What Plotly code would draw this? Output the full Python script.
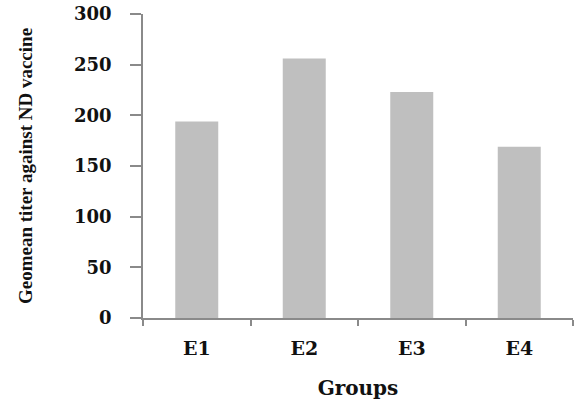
import plotly.graph_objects as go

groups = ["E1", "E2", "E3", "E4"]
geomean_titer = [194, 256, 223, 169]
y_ticks = [0, 50, 100, 150, 200, 250, 300]

fig = go.Figure(
    go.Bar(x=groups, y=geomean_titer, marker=dict(color="#BFBFBF", line=dict(width=0)), width=0.4)
)

axis_color = "#8A8A8A"
fig.update_layout(
    width=574, height=400,
    margin=dict(l=143, r=1, t=14, b=82, autoexpand=False),
    paper_bgcolor="white", plot_bgcolor="white",
    showlegend=False,
    xaxis=dict(
        showline=True, linecolor=axis_color, linewidth=1.5,
        ticks="outside", tickson="boundaries", ticklen=6, tickcolor=axis_color, tickwidth=1.5,
        tickfont=dict(family="DejaVu Serif", size=19, color="#111111", weight="bold"),
        ticklabelstandoff=12,
        title=dict(text="Groups", font=dict(family="DejaVu Serif", size=20, color="#111111", weight="bold"), standoff=25),
        showgrid=False, range=[-0.5, 3.5], automargin=False,
    ),
    yaxis=dict(
        showline=True, linecolor=axis_color, linewidth=1.5,
        ticks="outside", ticklen=11, tickcolor=axis_color, tickwidth=1.5,
        tickvals=y_ticks, range=[0, 300],
        tickfont=dict(family="DejaVu Serif", size=18, color="#111111", weight="bold"),
        ticklabelstandoff=15,
        title=dict(text="Geomean titer against ND vaccine", font=dict(family="Liberation Serif", size=19, color="#111111", weight="bold"), standoff=36),
        showgrid=False, zeroline=False, automargin=False,
    ),
)

fig.write_html("out.html", config={"displayModeBar": False}, post_script="document.body.style.margin='0';")
